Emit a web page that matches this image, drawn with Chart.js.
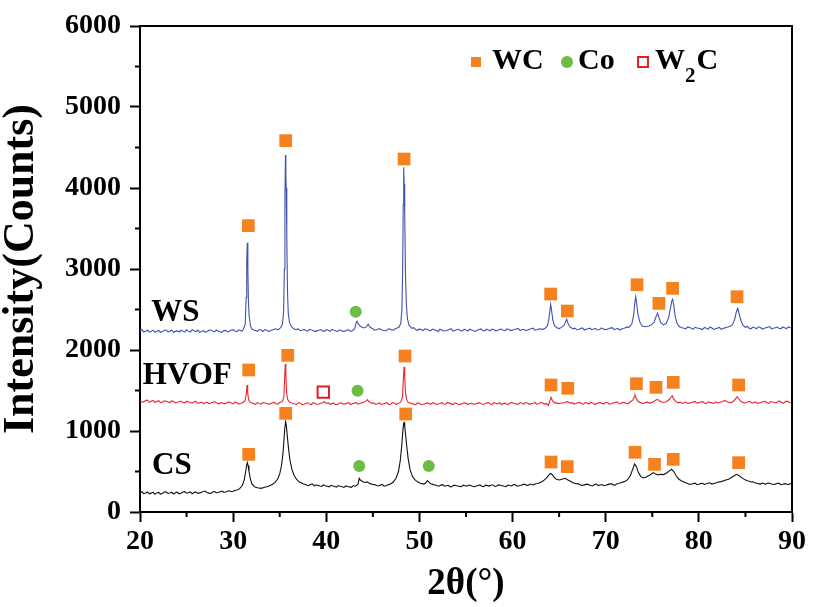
<!DOCTYPE html>
<html>
<head>
<meta charset="utf-8">
<title>XRD patterns - WS / HVOF / CS</title>
<script src="https://cdn.jsdelivr.net/npm/chart.js@4.4.1/dist/chart.umd.min.js"></script>
<style>
  html, body { margin: 0; padding: 0; background: #fff; }
  canvas { display: block; }
</style>
</head>
<body>
<canvas id="xrdChart" width="819" height="607"></canvas>
<script>
// ===== DATA =====
const xTickValues = [20, 30, 40, 50, 60, 70, 80, 90];
const xMinorTicks = [25, 35, 45, 55, 65, 75, 85];
const yTickValues = [0, 1000, 2000, 3000, 4000, 5000, 6000];
const yMinorTicks = [500, 1500, 2500, 3500, 4500, 5500];

const seriesNames = ['WS', 'HVOF', 'CS'];

// [2theta, counts]
const wsPattern = [
  [20.0,2238],[20.4,2222],[20.8,2246],[21.2,2230],[21.6,2218],[22.0,2241],[22.4,2226],[22.8,2249],[23.2,2231],[23.6,2215],
  [24.0,2236],[24.4,2244],[24.8,2221],[25.2,2233],[25.6,2250],[26.0,2227],[26.4,2219],[26.8,2240],[27.2,2229],[27.6,2247],
  [28.0,2224],[28.4,2236],[28.8,2218],[29.2,2242],[29.6,2231],[30.0,2251],[30.4,2226],[30.8,2240],[31.1,2258],[31.3,2320],
  [31.4,2650],[31.46,3100],[31.52,3325],[31.58,3020],[31.64,2600],[31.72,2420],[31.85,2300],[32.0,2262],[32.4,2240],[32.8,2252],
  [33.2,2229],[33.6,2244],[34.0,2237],[34.4,2255],[34.8,2248],[35.1,2275],[35.3,2320],[35.42,2480],[35.5,3000],[35.56,3900],
  [35.62,4407],[35.66,4150],[35.7,4000],[35.76,3400],[35.84,2700],[35.92,2450],[36.05,2340],[36.25,2290],[36.5,2262],[36.8,2250],
  [37.2,2238],[37.6,2256],[38.0,2232],[38.4,2247],[38.8,2228],[39.2,2243],[39.6,2236],[40.0,2252],[40.4,2230],[40.8,2245],
  [41.2,2226],[41.6,2240],[42.0,2233],[42.4,2248],[42.8,2238],[43.05,2262],[43.2,2330],[43.3,2355],[43.45,2320],[43.7,2290],
  [44.0,2272],[44.3,2285],[44.5,2318],[44.7,2280],[45.0,2262],[45.4,2250],[45.8,2258],[46.2,2240],[46.6,2255],[47.0,2248],
  [47.4,2263],[47.8,2280],[48.0,2330],[48.12,2500],[48.2,3000],[48.26,3800],[48.31,4255],[48.36,4050],[48.42,3700],[48.5,2950],
  [48.6,2550],[48.72,2380],[48.9,2300],[49.2,2268],[49.6,2252],[50.0,2260],[50.4,2241],[50.8,2255],[51.2,2236],[51.6,2250],
  [52.0,2229],[52.4,2246],[52.8,2238],[53.2,2253],[53.6,2232],[54.0,2249],[54.4,2240],[54.8,2258],[55.2,2235],[55.6,2248],
  [56.0,2230],[56.4,2252],[56.8,2241],[57.2,2257],[57.6,2236],[58.0,2250],[58.4,2243],[58.8,2259],[59.2,2238],[59.6,2254],
  [60.0,2245],[60.4,2260],[60.8,2240],[61.2,2256],[61.6,2247],[62.0,2262],[62.4,2244],[62.8,2258],[63.2,2252],[63.5,2268],
  [63.75,2300],[63.9,2380],[64.0,2480],[64.09,2564],[64.2,2480],[64.32,2370],[64.5,2300],[64.75,2275],[65.0,2265],[65.3,2282],
  [65.55,2310],[65.7,2350],[65.81,2379],[65.95,2330],[66.15,2285],[66.5,2262],[66.9,2250],[67.3,2266],[67.7,2247],[68.1,2262],
  [68.5,2251],[68.9,2268],[69.3,2249],[69.7,2264],[70.1,2255],[70.5,2270],[70.9,2252],[71.3,2268],[71.7,2258],[72.1,2274],
  [72.5,2280],[72.8,2320],[73.0,2430],[73.12,2580],[73.22,2658],[73.32,2580],[73.45,2450],[73.65,2350],[73.9,2300],[74.2,2288],
  [74.6,2296],[74.9,2310],[75.2,2345],[75.4,2410],[75.57,2453],[75.72,2400],[75.9,2340],[76.2,2310],[76.5,2330],[76.75,2400],
  [76.95,2520],[77.08,2600],[77.18,2626],[77.3,2560],[77.45,2420],[77.65,2330],[77.9,2290],[78.2,2275],[78.6,2262],[79.0,2279],
  [79.4,2258],[79.8,2272],[80.2,2261],[80.6,2278],[81.0,2256],[81.4,2271],[81.8,2262],[82.2,2279],[82.6,2265],[83.0,2281],
  [83.3,2290],[83.6,2310],[83.85,2380],[84.0,2460],[84.17,2514],[84.3,2460],[84.5,2370],[84.75,2300],[85.0,2280],[85.4,2268],
  [85.8,2283],[86.2,2262],[86.6,2278],[87.0,2266],[87.4,2282],[87.8,2260],[88.2,2275],[88.6,2268],[89.0,2284],[89.4,2263],
  [89.8,2277],[90.0,2270]
];
// extra baseline readings between the points above
const wsBaseline = [
  [20.2,2252],[20.6,2230],[21.0,2220],[21.4,2245],[21.8,2232],[22.2,2219],[22.6,2240],[23.0,2223],[23.4,2247],[23.8,2230],
  [24.2,2222],[24.6,2235],[25.0,2249],[25.4,2222],[25.8,2238],[26.2,2246],[26.6,2229],[27.0,2217],[27.4,2243],[27.8,2233],
  [28.2,2248],[28.6,2225],[29.0,2239],[29.4,2223],[29.8,2246],[30.2,2234],[30.6,2249],[30.95,2232],
  [32.2,2248],[32.6,2231],[33.0,2246],[33.4,2252],[33.8,2230],[34.2,2246],[34.6,2262],
  [36.95,2262],[37.4,2245],[37.8,2240],[38.2,2255],[38.6,2241],[39.0,2236],[39.4,2252],[39.8,2229],[40.2,2244],[40.6,2255],
  [41.0,2238],[41.4,2249],[41.8,2230],[42.2,2246],[42.6,2230],
  [45.2,2245],[45.6,2262],[46.0,2248],[46.4,2236],[46.8,2262],[47.2,2244],
  [49.4,2276],[49.8,2243],[50.2,2251],[50.6,2262],[51.0,2244],[51.4,2258],[51.8,2241],[52.2,2256],[52.6,2235],[53.0,2244],
  [53.4,2262],[53.8,2241],[54.2,2256],[54.6,2233],[55.0,2247],[55.4,2257],[55.8,2238],[56.2,2245],[56.6,2260],[57.0,2236],
  [57.4,2248],[57.8,2258],[58.2,2237],[58.6,2252],[59.0,2245],[59.4,2261],[59.8,2240],[60.2,2252],[60.6,2266],[61.0,2249],
  [61.4,2239],[61.8,2255],[62.2,2269],[62.6,2251],[63.0,2262],
  [66.7,2270],[67.1,2253],[67.5,2272],[67.9,2256],[68.3,2270],[68.7,2258],[69.1,2247],[69.5,2271],[69.9,2250],[70.3,2262],
  [70.7,2276],[71.1,2259],[71.5,2247],[71.9,2265],[72.3,2285],
  [78.0,2283],[78.4,2269],[78.8,2285],[79.2,2265],[79.6,2280],[80.0,2268],[80.4,2253],[80.8,2270],[81.2,2284],[81.6,2254],
  [82.0,2270],[82.4,2255],[82.8,2273],
  [85.2,2290],[85.6,2261],[86.0,2276],[86.4,2286],[86.8,2259],[87.2,2274],[87.6,2289],[88.0,2268],[88.4,2283],[88.8,2262],
  [89.2,2276],[89.6,2285]
];

const hvofPattern = [
  [20.0,1372],[20.4,1360],[20.8,1381],[21.2,1366],[21.6,1352],[22.0,1374],[22.4,1358],[22.8,1368],[23.2,1349],[23.6,1363],
  [24.0,1355],[24.4,1370],[24.8,1348],[25.2,1361],[25.6,1344],[26.0,1366],[26.4,1350],[26.8,1339],[27.2,1357],[27.6,1345],
  [28.0,1360],[28.4,1336],[28.8,1352],[29.2,1341],[29.6,1358],[30.0,1334],[30.4,1350],[30.8,1340],[31.1,1355],[31.3,1380],
  [31.42,1470],[31.49,1568],[31.56,1470],[31.68,1380],[31.85,1352],[32.2,1338],[32.6,1351],[33.0,1332],[33.4,1346],[33.8,1330],
  [34.2,1349],[34.6,1336],[35.0,1352],[35.3,1365],[35.45,1420],[35.53,1650],[35.6,1827],[35.66,1700],[35.74,1470],[35.85,1390],
  [36.05,1355],[36.4,1340],[36.8,1325],[37.2,1344],[37.6,1330],[38.0,1348],[38.4,1327],[38.8,1341],[39.2,1333],[39.6,1350],
  [39.8,1362],[40.0,1340],[40.4,1329],[40.8,1345],[41.2,1331],[41.6,1348],[42.0,1335],[42.4,1352],[42.8,1338],[43.2,1350],
  [43.6,1342],[44.0,1356],[44.25,1372],[44.43,1385],[44.6,1360],[44.9,1340],[45.3,1329],[45.7,1346],[46.1,1334],[46.5,1349],
  [46.9,1331],[47.3,1345],[47.7,1338],[48.0,1360],[48.18,1420],[48.28,1650],[48.35,1794],[48.42,1680],[48.5,1480],[48.62,1390],
  [48.8,1352],[49.2,1338],[49.6,1325],[50.0,1343],[50.4,1330],[50.8,1347],[51.2,1328],[51.6,1342],[52.0,1333],[52.4,1349],
  [52.8,1330],[53.2,1344],[53.6,1326],[54.0,1340],[54.4,1332],[54.8,1348],[55.2,1329],[55.6,1343],[56.0,1335],[56.4,1350],
  [56.8,1331],[57.2,1346],[57.6,1333],[58.0,1349],[58.4,1336],[58.8,1327],[59.2,1344],[59.6,1332],[60.0,1347],[60.4,1335],
  [60.8,1351],[61.2,1333],[61.6,1346],[62.0,1338],[62.4,1352],[62.8,1336],[63.2,1348],[63.6,1340],[63.85,1315],[64.0,1370],
  [64.13,1416],[64.28,1375],[64.5,1350],[64.9,1338],[65.3,1346],[65.6,1352],[65.9,1362],[66.2,1344],[66.6,1333],[67.0,1349],
  [67.4,1336],[67.8,1351],[68.2,1332],[68.6,1347],[69.0,1338],[69.4,1353],[69.8,1335],[70.2,1349],[70.6,1337],[71.0,1352],
  [71.4,1340],[71.8,1355],[72.2,1342],[72.6,1358],[72.9,1380],[73.05,1420],[73.14,1444],[73.25,1410],[73.45,1370],[73.7,1350],
  [74.0,1340],[74.4,1356],[74.8,1345],[75.2,1368],[75.53,1391],[75.8,1370],[76.1,1352],[76.5,1362],[76.85,1392],[77.0,1420],
  [77.14,1436],[77.28,1400],[77.5,1365],[77.8,1348],[78.2,1340],[78.6,1357],[79.0,1344],[79.4,1360],[79.8,1343],[80.2,1358],
  [80.6,1345],[81.0,1361],[81.4,1347],[81.8,1360],[82.2,1352],[82.55,1365],[82.8,1378],[83.05,1358],[83.4,1350],[83.7,1365],
  [83.95,1400],[84.12,1424],[84.3,1395],[84.55,1362],[84.9,1348],[85.3,1360],[85.7,1344],[86.1,1359],[86.5,1347],[86.9,1362],
  [87.3,1349],[87.7,1364],[88.1,1351],[88.5,1366],[88.9,1350],[89.3,1363],[89.7,1352],[90.0,1358]
];
const hvofBaseline = [
  [20.2,1358],[20.6,1375],[21.0,1355],[21.4,1377],[21.8,1365],[22.2,1350],[22.6,1372],[23.0,1360],[23.4,1371],[23.8,1346],
  [24.2,1362],[24.6,1351],[25.0,1365],[25.4,1352],[25.8,1360],[26.2,1341],[26.6,1358],[27.0,1348],[27.4,1337],[27.8,1355],
  [28.2,1350],[28.6,1344],[29.0,1338],[29.4,1354],[29.8,1345],[30.2,1356],[30.6,1333],
  [32.0,1346],[32.4,1328],[32.8,1340],[33.2,1352],[33.6,1339],[34.0,1338],[34.4,1353],[34.8,1331],
  [36.2,1348],[36.6,1336],[37.0,1351],[37.4,1326],[37.8,1340],[38.2,1334],[38.6,1350],[39.0,1328],[39.4,1342],[40.2,1351],
  [40.6,1338],[41.0,1324],[41.4,1343],[41.8,1330],[42.2,1341],[42.6,1326],[43.0,1344],[43.4,1332],[43.8,1347],
  [45.1,1347],[45.5,1336],[45.9,1328],[46.3,1341],[46.7,1328],[47.1,1351],[47.5,1330],
  [49.0,1346],[49.4,1332],[49.8,1348],[50.2,1326],[50.6,1336],[51.0,1341],[51.4,1349],[51.8,1327],[52.2,1340],[52.6,1334],
  [53.0,1352],[53.4,1335],[53.8,1348],[54.2,1325],[54.6,1338],[55.0,1341],[55.4,1337],[55.8,1330],[56.2,1342],[56.6,1339],
  [57.0,1334],[57.4,1350],[57.8,1328],[58.2,1342],[58.6,1350],[59.0,1338],[59.4,1329],[59.8,1352],[60.2,1340],[60.6,1328],
  [61.0,1342],[61.4,1351],[61.8,1330],[62.2,1343],[62.6,1331],[63.0,1352],[63.4,1333],
  [66.4,1350],[66.8,1340],[67.2,1353],[67.6,1331],[68.0,1344],[68.4,1355],[68.8,1329],[69.2,1345],[69.6,1341],[70.0,1355],
  [70.4,1331],[70.8,1345],[71.2,1359],[71.6,1336],[72.0,1350],[72.4,1336],
  [78.0,1356],[78.4,1349],[78.8,1340],[79.2,1353],[79.6,1362],[80.0,1350],[80.4,1363],[80.8,1339],[81.2,1353],[81.6,1340],
  [82.0,1346],
  [85.1,1352],[85.5,1366],[85.9,1351],[86.3,1340],[86.7,1356],[87.1,1367],[87.5,1341],[87.9,1357],[88.3,1345],[88.7,1370],
  [89.1,1344],[89.5,1368],[89.9,1349]
];

const csPattern = [
  [20.0,238],[20.4,226],[20.8,247],[21.2,233],[21.6,220],[22.0,242],[22.4,229],[22.8,250],[23.2,235],[23.6,222],
  [24.0,244],[24.4,231],[24.8,251],[25.2,237],[25.6,226],[26.0,248],[26.4,236],[26.8,254],[27.2,240],[27.6,230],
  [28.0,252],[28.4,241],[28.8,258],[29.2,246],[29.6,262],[30.0,255],[30.4,272],[30.7,288],[31.0,330],[31.2,400],
  [31.35,500],[31.45,580],[31.52,609],[31.6,575],[31.7,500],[31.85,410],[32.0,350],[32.3,310],[32.6,300],[33.0,292],
  [33.4,305],[33.8,318],[34.2,340],[34.5,365],[34.8,410],[35.0,470],[35.2,580],[35.35,720],[35.45,880],[35.55,1040],
  [35.64,1115],[35.72,1060],[35.82,930],[35.95,780],[36.1,640],[36.3,530],[36.55,450],[36.8,405],[37.1,370],[37.5,350],
  [37.9,332],[38.3,340],[38.7,322],[39.1,330],[39.5,315],[39.9,325],[40.3,310],[40.7,322],[41.1,306],[41.5,318],
  [41.9,303],[42.3,315],[42.7,305],[43.1,318],[43.4,340],[43.54,416],[43.65,395],[43.85,380],[44.1,365],[44.4,372],
  [44.7,350],[45.0,340],[45.4,326],[45.8,334],[46.2,318],[46.5,330],[46.9,345],[47.2,370],[47.5,420],[47.75,500],
  [47.95,640],[48.1,820],[48.22,1000],[48.3,1090],[48.35,1103],[48.42,1060],[48.52,950],[48.65,800],[48.8,650],[49.0,520],
  [49.25,440],[49.5,400],[49.8,372],[50.1,355],[50.45,345],[50.7,360],[50.85,387],[51.0,372],[51.2,350],[51.5,338],
  [51.9,325],[52.3,332],[52.7,318],[53.1,330],[53.5,314],[53.9,327],[54.3,316],[54.7,331],[55.1,318],[55.5,326],
  [55.9,312],[56.3,328],[56.7,317],[57.1,331],[57.5,320],[57.9,334],[58.3,321],[58.7,330],[59.1,318],[59.5,333],
  [59.9,322],[60.3,336],[60.7,324],[61.1,338],[61.5,329],[61.9,345],[62.3,338],[62.7,352],[63.0,365],[63.3,385],
  [63.6,415],[63.85,450],[64.0,470],[64.09,477],[64.25,460],[64.45,430],[64.7,405],[65.0,395],[65.3,405],[65.62,416],
  [65.9,398],[66.2,380],[66.5,360],[66.8,348],[67.2,340],[67.6,332],[68.0,344],[68.4,328],[68.8,340],[69.2,326],
  [69.6,339],[70.0,330],[70.4,344],[70.8,335],[71.2,348],[71.6,360],[72.0,375],[72.35,400],[72.65,450],[72.9,530],
  [73.1,593],[73.3,560],[73.5,490],[73.75,440],[74.0,420],[74.3,430],[74.6,448],[74.9,470],[75.1,486],[75.35,470],
  [75.6,458],[75.9,465],[76.2,462],[76.5,478],[76.8,505],[77.07,527],[77.3,500],[77.55,450],[77.8,410],[78.1,385],
  [78.4,370],[78.8,352],[79.2,345],[79.6,356],[80.0,342],[80.4,355],[80.8,348],[81.2,360],[81.6,352],[82.0,368],
  [82.4,375],[82.8,392],[83.2,405],[83.5,425],[83.8,448],[84.05,465],[84.3,450],[84.6,425],[84.9,400],[85.2,385],
  [85.6,370],[86.0,362],[86.4,350],[86.8,358],[87.2,343],[87.6,354],[88.0,340],[88.4,352],[88.8,338],[89.2,350],
  [89.6,337],[90.0,346]
];
const csBaseline = [
  [20.2,250],[20.6,235],[21.0,224],[21.4,245],[21.8,236],[22.2,222],[22.6,246],[23.0,230],[23.4,244],[23.8,237],
  [24.2,225],[24.6,246],[25.0,232],[25.4,248],[25.8,240],[26.2,230],[26.6,244],[27.0,259],[27.4,233],[27.8,247],
  [28.2,238],[28.6,250],[29.0,243],[29.4,255],[29.8,250],[30.2,266],
  [38.1,324],[38.5,348],[38.9,333],[39.3,322],[39.7,334],[40.1,318],[40.5,330],[40.9,314],[41.3,327],[41.7,312],
  [42.1,322],[42.5,310],[42.9,326],
  [45.2,338],[45.6,322],[46.0,340],[46.4,325],[46.7,338],
  [51.7,333],[52.1,318],[52.5,338],[52.9,324],[53.3,310],[53.7,332],[54.1,320],[54.5,312],[54.9,325],[55.3,333],
  [55.7,318],[56.1,322],[56.5,334],[56.9,312],[57.3,326],[57.7,333],[58.1,315],[58.5,335],[58.9,325],[59.3,312],
  [59.7,328],[60.1,340],[60.5,318],[60.9,330],[61.3,344],[61.7,332],[62.1,336],[62.5,348],
  [67.0,350],[67.4,328],[67.8,338],[68.2,336],[68.6,322],[69.0,345],[69.4,333],[69.8,324],[70.2,338],[70.6,350],
  [71.0,330],[71.4,352],
  [78.6,360],[79.0,340],[79.4,350],[79.8,338],[80.2,352],[80.6,340],[81.0,354],[81.4,345],[81.8,358],
  [85.4,380],[85.8,372],[86.2,356],[86.6,345],[87.0,350],[87.4,358],[87.8,345],[88.2,344],[88.6,356],[89.0,343],
  [89.4,345],[89.8,352]
];

// phase markers [2theta, counts]
const wcMarks = [
  [31.63,3535],[35.64,4585],[48.35,4358],[64.09,2691],[65.88,2481],[73.36,2806],[75.71,2576],[77.18,2761],[84.10,2658],
  [31.67,1753],[35.86,1934],[48.45,1926],[64.13,1568],[65.93,1527],[73.30,1584],[75.40,1539],[77.25,1601],[84.27,1568],
  [31.67,712],[35.64,1218],[48.53,1210],[64.13,617],[65.87,560],[73.15,737],[75.24,588],[77.25,650],[84.27,609]
];
const coMarks = [[43.16,2473],[43.36,1498],[43.54,568],[51.0,568]];
const w2cMarks = [[39.68,1481]];

// ===== STYLE =====
const FONT = "'Liberation Serif', 'Times New Roman', serif";
const lineColors = ['#4152ab', '#ea2630', '#111111'];

const toXY = pts => pts.map(([x, y]) => ({ x, y }));
// merge main readings with the in-between baseline readings, ordered by angle
const mergePattern = (main, extra) => toXY([...main, ...extra].sort((a, b) => a[0] - b[0]));

const wcStyle = { pointStyle: 'rect', radius: 9, rotation: 0, borderWidth: 0, fill: '#f5821f', stroke: '#f5821f' };
const coStyle = { pointStyle: 'circle', radius: 6, rotation: 0, borderWidth: 0, fill: '#6cbd45', stroke: '#6cbd45' };
const w2cStyle = { pointStyle: 'rect', radius: 8, rotation: 0, borderWidth: 2, fill: 'rgba(255,255,255,0)', stroke: '#e31e24' };

function markerDataset(label, pts, st) {
    return {
        label,
        data: toXY(pts),
        showLine: false,
        pointStyle: st.pointStyle,
        pointRadius: st.radius,
        pointBorderWidth: st.borderWidth,
        pointBackgroundColor: st.fill,
        pointBorderColor: st.stroke,
        pointHoverRadius: st.radius
    };
}

function patternDataset(label, data, color) {
    return {
        label,
        data,
        borderColor: color,
        borderWidth: 1.1,
        pointRadius: 0,
        tension: 0,
        fill: false
    };
}

// ===== PLUGINS =====
// top/right frame + minor ticks
const frameAndMinorTicks = {
    id: 'frameAndMinorTicks',
    afterDraw(chart) {
        const { ctx, chartArea: a, scales: { x, y } } = chart;
        ctx.save();
        ctx.strokeStyle = '#000';
        ctx.lineWidth = 2;
        ctx.beginPath();
        ctx.moveTo(a.left, a.top);
        ctx.lineTo(a.right, a.top);
        ctx.lineTo(a.right, a.bottom);
        xMinorTicks.forEach(v => {
            const px = x.getPixelForValue(v);
            ctx.moveTo(px, a.bottom);
            ctx.lineTo(px, a.bottom + 5);
        });
        yMinorTicks.forEach(v => {
            const py = y.getPixelForValue(v);
            ctx.moveTo(a.left, py);
            ctx.lineTo(a.left - 5, py);
        });
        ctx.stroke();
        ctx.restore();
    }
};

// series names next to each pattern
const labelSpots = [[21.2, 2460], [20.3, 1680], [21.3, 570]];
const seriesLabels = {
    id: 'seriesLabels',
    afterDatasetsDraw(chart) {
        const { ctx, scales: { x, y } } = chart;
        ctx.save();
        ctx.fillStyle = '#000';
        ctx.font = `bold 31px ${FONT}`;
        ctx.textBaseline = 'middle';
        seriesNames.forEach((name, i) => {
            ctx.fillText(name, x.getPixelForValue(labelSpots[i][0]), y.getPixelForValue(labelSpots[i][1]));
        });
        ctx.restore();
    }
};

// phase legend (WC / Co / W2C)
function drawMarker(ctx, st, px, py) {
    ctx.fillStyle = st.fill;
    ctx.strokeStyle = st.stroke;
    ctx.lineWidth = st.borderWidth;
    Chart.helpers.drawPoint(ctx, st, px, py);
}

const phaseLegend = {
    id: 'phaseLegend',
    afterDraw(chart) {
        const { ctx, chartArea: a } = chart;
        const top = a.top;
        const base = top + 43;
        const my = top + 36;
        ctx.save();
        ctx.textBaseline = 'alphabetic';
        drawMarker(ctx, { ...wcStyle, radius: 7 }, a.left + 336, my);
        drawMarker(ctx, coStyle, a.left + 427, my);
        drawMarker(ctx, { ...w2cStyle, radius: 7 }, a.left + 503, my);
        ctx.fillStyle = '#000';
        ctx.font = `bold 30px ${FONT}`;
        ctx.fillText('WC', a.left + 352, base);
        ctx.fillText('Co', a.left + 438, base);
        ctx.fillText('W', a.left + 515, base);
        const wW = ctx.measureText('W').width;
        ctx.font = `bold 21px ${FONT}`;
        ctx.fillText('2', a.left + 515 + wW, base + 13);
        const w2 = ctx.measureText('2').width;
        ctx.font = `bold 30px ${FONT}`;
        ctx.fillText('C', a.left + 515 + wW + w2 + 1, base);
        ctx.restore();
    }
};

// ===== CHART =====
const axisGrid = {
    display: true,
    drawOnChartArea: false,
    drawTicks: true,
    tickLength: 10,
    tickWidth: 2,
    tickColor: '#000'
};
const axisBorder = { display: true, width: 2, color: '#000' };

const ctx = document.getElementById('xrdChart');
new Chart(ctx, {
    type: 'line',
    data: {
        datasets: [
            markerDataset('WC', wcMarks, wcStyle),
            markerDataset('Co', coMarks, coStyle),
            markerDataset('W2C', w2cMarks, w2cStyle),
            patternDataset(seriesNames[0], mergePattern(wsPattern, wsBaseline), lineColors[0]),
            patternDataset(seriesNames[1], mergePattern(hvofPattern, hvofBaseline), lineColors[1]),
            patternDataset(seriesNames[2], mergePattern(csPattern, csBaseline), lineColors[2])
        ]
    },
    options: {
        responsive: false,
        animation: false,
        devicePixelRatio: 1,
        events: [],
        layout: { padding: { top: 26, right: 27, left: 0, bottom: 0 } },
        plugins: {
            legend: { display: false },
            tooltip: { enabled: false }
        },
        scales: {
            x: {
                type: 'linear',
                min: 20,
                max: 90,
                afterBuildTicks: s => { s.ticks = xTickValues.map(v => ({ value: v })); },
                afterFit: s => { s.height = 95; },
                grid: axisGrid,
                border: axisBorder,
                ticks: {
                    color: '#000',
                    padding: 3,
                    maxRotation: 0,
                    callback: v => String(v),
                    font: { family: FONT, size: 28, weight: 'bold' }
                },
                title: {
                    display: true,
                    text: '2θ(°)',
                    color: '#000',
                    padding: 0,
                    font: { family: FONT, size: 37, weight: 'bold', lineHeight: 1.2 }
                }
            },
            y: {
                type: 'linear',
                min: 0,
                max: 6000,
                afterBuildTicks: s => { s.ticks = yTickValues.map(v => ({ value: v })); },
                afterFit: s => { s.width = 140; },
                grid: axisGrid,
                border: axisBorder,
                ticks: {
                    color: '#000',
                    padding: 9,
                    callback: v => String(v),
                    font: { family: FONT, size: 28, weight: 'bold' }
                },
                title: {
                    display: true,
                    text: 'Intensity(Counts)',
                    color: '#000',
                    padding: 0,
                    font: { family: FONT, size: 44, weight: 'bold', lineHeight: 1.0 }
                }
            }
        }
    },
    plugins: [frameAndMinorTicks, seriesLabels, phaseLegend]
});
</script>
</body>
</html>
